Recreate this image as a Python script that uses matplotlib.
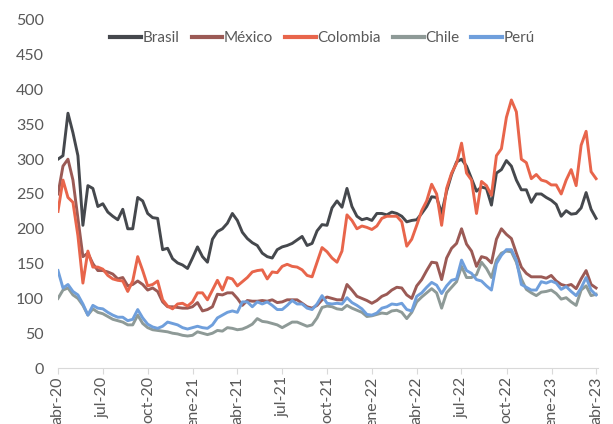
import numpy as np
import pandas as pd
import matplotlib
matplotlib.use("Agg")
import matplotlib.pyplot as plt

plt.rcParams['font.family'] = ['Lato', 'DejaVu Sans']

# muestras cada ~10 dias, abr-20 a abr-23
fechas = pd.date_range("2020-04-01", "2023-04-01", periods=109)

brasil = [300, 305, 366, 338, 305, 205, 262, 258, 232, 236,
          224, 218, 213, 228, 200, 200, 245, 240, 222, 216,
          215, 170, 172, 157, 151, 148, 143, 158, 174, 160,
          152, 185, 196, 200, 208, 222, 212, 195, 186, 180,
          176, 165, 160, 158, 170, 174, 176, 179, 184, 189,
          176, 179, 197, 206, 205, 230, 240, 231, 258, 232,
          218, 213, 215, 212, 222, 222, 220, 224, 222, 218,
          210, 212, 213, 222, 232, 246, 245, 222, 254, 278,
          296, 300, 290, 272, 254, 260, 258, 234, 280, 285,
          298, 290, 270, 256, 256, 238, 250, 250, 245, 241,
          235, 218, 226, 221, 222, 230, 252, 228, 215]

mexico = [250, 290, 300, 270, 215, 160, 165, 150, 140, 140,
          138, 135, 128, 130, 118, 120, 125, 120, 112, 115,
          110, 95, 88, 88, 87, 86, 86, 88, 94, 82,
          84, 88, 106, 105, 108, 108, 100, 90, 97, 96,
          96, 97, 96, 98, 94, 95, 98, 98, 98, 93,
          88, 86, 90, 98, 102, 100, 98, 98, 120, 112,
          103, 100, 97, 93, 97, 103, 106, 112, 116, 115,
          105, 100, 118, 127, 140, 152, 151, 127, 158, 172,
          179, 200, 178, 168, 146, 160, 158, 151, 185, 200,
          192, 186, 165, 145, 136, 131, 131, 131, 129, 133,
          125, 120, 118, 120, 114, 128, 140, 120, 115]

colombia = [225, 270, 245, 238, 190, 122, 168, 145, 145, 142,
            133, 128, 126, 125, 110, 125, 160, 140, 118, 120,
            125, 98, 89, 85, 92, 93, 89, 95, 108, 108,
            98, 112, 126, 112, 130, 128, 118, 124, 130, 138,
            140, 141, 128, 138, 137, 146, 149, 146, 145, 141,
            133, 131, 152, 173, 167, 158, 152, 168, 220, 212,
            200, 204, 202, 199, 204, 215, 218, 218, 218, 210,
            175, 185, 205, 226, 240, 264, 250, 205, 258, 280,
            294, 323, 280, 270, 222, 268, 262, 248, 305, 315,
            360, 385, 368, 300, 295, 272, 278, 270, 268, 263,
            263, 250, 270, 285, 262, 320, 340, 282, 272]

chile = [100, 112, 115, 105, 100, 90, 76, 85, 80, 78,
         74, 70, 68, 66, 62, 62, 76, 64, 58, 55,
         54, 53, 52, 50, 49, 47, 46, 47, 52, 50,
         48, 50, 54, 53, 58, 57, 55, 56, 59, 63,
         71, 67, 66, 64, 62, 58, 62, 66, 66, 63,
         60, 62, 72, 87, 89, 88, 85, 84, 90, 86,
         83, 80, 74, 75, 77, 79, 78, 82, 83, 80,
         71, 80, 95, 102, 108, 114, 108, 86, 108, 116,
         124, 146, 130, 130, 134, 152, 143, 130, 155, 165,
         168, 167, 152, 128, 113, 108, 104, 109, 110, 112,
         107, 99, 101, 95, 90, 112, 118, 104, 106]

peru = [140, 115, 120, 110, 105, 92, 76, 90, 86, 85,
        80, 76, 73, 73, 68, 70, 84, 72, 63, 59,
        57, 60, 66, 64, 62, 58, 56, 58, 60, 58,
        57, 62, 72, 76, 80, 82, 80, 95, 95, 88,
        95, 92, 95, 90, 84, 84, 90, 97, 92, 92,
        86, 84, 92, 104, 93, 92, 93, 92, 101, 94,
        90, 85, 77, 76, 79, 86, 88, 92, 91, 93,
        84, 82, 103, 108, 116, 123, 119, 107, 118, 126,
        128, 155, 140, 136, 127, 125, 118, 112, 150, 162,
        170, 170, 155, 120, 116, 112, 112, 124, 122, 125,
        122, 113, 117, 110, 104, 115, 130, 112, 105]

series = [("Brasil", brasil, "#45484d"),
          ("México", mexico, "#9b5a55"),
          ("Colombia", colombia, "#e8654b"),
          ("Chile", chile, "#8e9a97"),
          ("Perú", peru, "#6f9fdc")]

tick_fechas = pd.date_range("2020-04-01", "2023-04-01", freq="3MS")
tick_labels = ["abr-20", "jul-20", "oct-20", "ene-21", "abr-21", "jul-21", "oct-21",
               "ene-22", "abr-22", "jul-22", "oct-22", "ene-23", "abr-23"]

gris = "#595959"

fig = plt.figure(figsize=(6.13, 4.24), dpi=100)
ax = fig.add_axes([0.0946, 0.132, 0.881, 0.821])

for nombre, valores, color in series:
    ax.plot(fechas, valores, color=color, lw=2.1, label=nombre, solid_joinstyle="round")

ax.set_ylim(0, 500)
ax.set_yticks(np.arange(0, 501, 50))
ax.set_xlim(pd.Timestamp("2020-04-01"), pd.Timestamp("2023-04-05"))
ax.set_xticks(tick_fechas)
ax.set_xticklabels(tick_labels, rotation=90)

for s in ["top", "right", "left"]:
    ax.spines[s].set_visible(False)
ax.spines["bottom"].set_color("#d9d9d9")
ax.tick_params(axis="y", length=0, labelsize=11.5, colors=gris, pad=10)
ax.tick_params(axis="x", length=4, color="#d9d9d9", labelsize=11.5, labelcolor=gris, pad=2)

leg = ax.legend(loc="upper center", bbox_to_anchor=(0.49, 1.008), ncol=5, frameon=False,
                fontsize=11, handlelength=2.0, handletextpad=0.1, columnspacing=0.8)
for t in leg.get_texts():
    t.set_color(gris)
for l in leg.get_lines():
    l.set_linewidth(3)

fig.savefig("out.png", dpi=100)
